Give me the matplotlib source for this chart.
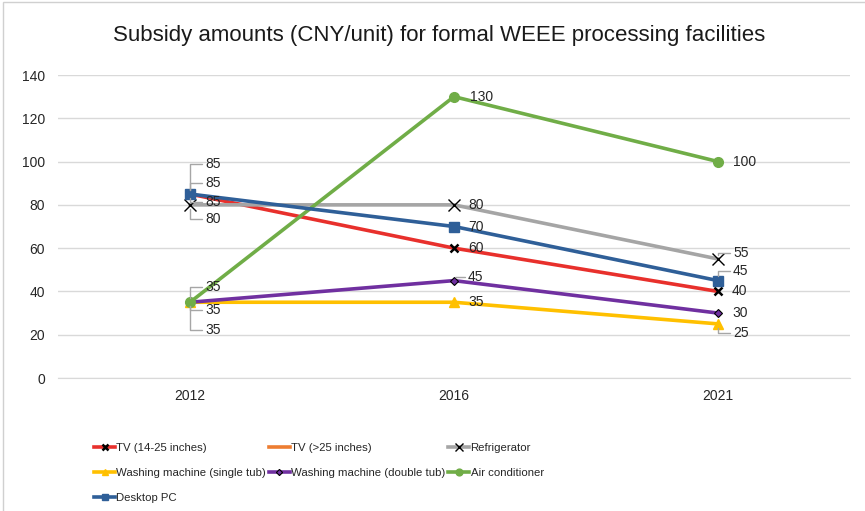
import numpy as np
import matplotlib.pyplot as plt
from matplotlib.patches import Rectangle
from matplotlib import font_manager

plt.rcParams['font.family'] = ['Liberation Sans', 'DejaVu Sans']

years = ['2012', '2016', '2021']
tv_small = [85, 60, 40]
tv_large = [85, np.nan, np.nan]
refrigerator = [80, 80, 55]
washer_single = [35, 35, 25]
washer_double = [35, 45, 30]
air_conditioner = [35, 130, 100]
desktop_pc = [85, 70, 45]

# series: name, values, colour, marker style, label offsets (px) per year
series = [
    ('TV (14-25 inches)', tv_small, '#E8302C',
     dict(marker='x', ms=6, mew=1.8, mec='black'),
     [(15, 30), (14, 0), (14, 0)]),
    ('TV (>25 inches)', tv_large, '#ED7D31',
     dict(marker=None),
     [(15, 11), None, None]),
    ('Refrigerator', refrigerator, '#A5A5A5',
     dict(marker='x', ms=9, mew=1.0, mec='black'),
     [(15, -14), (14, 0), (15, 6)]),
    ('Washing machine (single tub)', washer_single, '#FFC000',
     dict(marker='^', ms=7, mfc='#FFC000', mec='#FFC000'),
     [(15, -28), (14, 0), (15, -9)]),
    ('Washing machine (double tub)', washer_double, '#7030A0',
     dict(marker='D', ms=4.5, mfc='#7030A0', mec='black', mew=0.8),
     [(15, -8), (14, 4), (14, 0)]),
    ('Air conditioner', air_conditioner, '#70AD47',
     dict(marker='o', ms=7, mfc='#70AD47', mec='#70AD47'),
     [(15, 15), (16, 0), (15, 0)]),
    ('Desktop PC', desktop_pc, '#2F5F98',
     dict(marker='s', ms=7, mfc='#2F5F98', mec='#2F5F98'),
     [(15, -8), (14, 0), (15, 10)]),
]

fig = plt.figure(figsize=(8.65, 5.11), dpi=100)
ax = fig.add_axes([58/865, 1 - 378/511, (850 - 58)/865, (378 - 75)/511])

# chart frame
fig.patches.append(Rectangle((3/865, -0.2), 1.2, 1 - 2/511 + 0.2, transform=fig.transFigure,
                             fill=False, edgecolor='#D0D0D0', lw=1.0))

x = np.arange(len(years))
handles = {}
for name, vals, color, mk, offs in series:
    h, = ax.plot(x, vals, color=color, lw=2.6, label=name, zorder=3, **mk)
    handles[name] = h
    for i, v in enumerate(vals):
        if offs[i] is None or np.isnan(v):
            continue
        dx, dy = offs[i]
        need_leader = abs(dy) > 3
        ax.annotate(str(v), (x[i], v), xytext=(dx, dy), textcoords='offset pixels',
                    ha='left', va='center', fontsize=10, color='#262626', zorder=5,
                    arrowprops=dict(arrowstyle='-', color='#A6A6A6', lw=1.0,
                                    shrinkA=0, shrinkB=3,
                                    connectionstyle='angle,angleA=0,angleB=90,rad=0')
                    if need_leader else None)

ax.set_xlim(-0.5, 2.5)
ax.set_ylim(0, 140)
ax.set_yticks(range(0, 141, 20))
ax.set_xticks(x)
ax.set_xticklabels(years)
ax.grid(axis='y', color='#D9D9D9', lw=1.0, zorder=0)
ax.set_axisbelow(True)
for s in ['top', 'right', 'left']:
    ax.spines[s].set_visible(False)
ax.spines['bottom'].set_color('#D9D9D9')
ax.tick_params(length=0, labelsize=10, colors='#262626')
ax.tick_params(axis='y', pad=9.5)
ax.tick_params(axis='x', pad=8)

fig.text(439/865, 1 - 35/511, 'Subsidy amounts (CNY/unit) for formal WEEE processing facilities',
         ha='center', va='center', fontsize=16, color='#1a1a1a')

# legend uses the narrow face when it is available
names = {f.name for f in font_manager.fontManager.ttflist}
leg_family = 'Liberation Sans Narrow' if 'Liberation Sans Narrow' in names else 'Liberation Sans'
leg_size = 9.5 if leg_family == 'Liberation Sans Narrow' else 8.2

order = ['TV (14-25 inches)', 'Washing machine (single tub)', 'Desktop PC',
         'TV (>25 inches)', 'Washing machine (double tub)',
         'Refrigerator', 'Air conditioner']
fig.legend([handles[n] for n in order], order, ncol=3, loc='upper left',
           bbox_to_anchor=(88/865, 1 - 437/511), frameon=False,
           prop=dict(family=leg_family, size=leg_size), markerscale=0.7,
           handlelength=1.9, handletextpad=0.1, columnspacing=0.2, labelspacing=1.35,
           borderpad=0, labelcolor='#262626')

fig.savefig('out.png', dpi=100)
